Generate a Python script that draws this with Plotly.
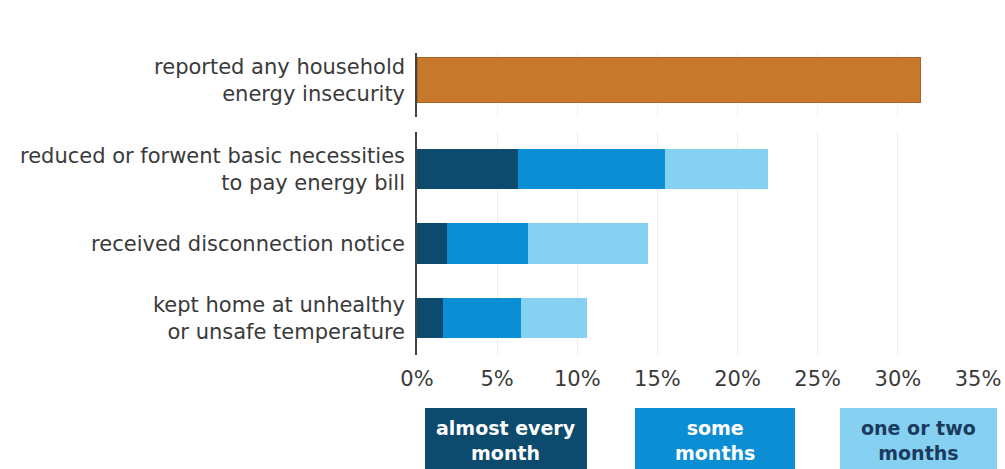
import plotly.graph_objects as go

# ---- data ----
top_category = ["reported any household<br>energy insecurity"]
top_value = [31.4]

categories = [
    "reduced or forwent basic necessities<br>to pay energy bill",
    "received disconnection notice",
    "kept home at unhealthy<br>or unsafe temperature",
]
almost_every_month = [6.3, 1.9, 1.6]
some_months = [9.2, 5.0, 4.9]
one_or_two_months = [6.4, 7.5, 4.1]

series_names = ["almost every<br>month", "some<br>months", "one or two<br>months"]
x_ticks = [0, 5, 10, 15, 20, 25, 30, 35]
x_tick_labels = ["0%", "5%", "10%", "15%", "20%", "25%", "30%", "35%"]

# ---- style ----
W, H = 1005, 469
L, R, T, B = 417, 27, 53, 114
PH = H - T - B
ORANGE = "#c8782b"
DARK = "#0c4a6e"
MED = "#0b8ed3"
LIGHT = "#86d1f2"
TXT = "#3a3a3a"
FONT = "DejaVu Sans"

def py(pix):  # pixel y -> paper y
    return (H - B - pix) / PH

def px(pix):
    return (pix - L) / (W - L - R)

fig = go.Figure()

fig.add_trace(go.Bar(
    y=top_category, x=top_value, orientation="h", width=0.69,
    marker=dict(color=ORANGE, line=dict(color="#a8621f", width=1)),
    xaxis="x2", yaxis="y2", showlegend=False, hoverinfo="skip"))

for vals, col, name in zip([almost_every_month, some_months, one_or_two_months],
                           [DARK, MED, LIGHT], series_names):
    fig.add_trace(go.Bar(
        y=categories, x=vals, orientation="h", width=0.54, name=name,
        marker=dict(color=col, line=dict(width=0)),
        xaxis="x", yaxis="y", showlegend=False, hoverinfo="skip"))

axis_font = dict(family=FONT, size=21, color=TXT)

fig.update_layout(
    width=W, height=H,
    margin=dict(l=L, r=R, t=T, b=B, pad=0, autoexpand=False),
    paper_bgcolor="white", plot_bgcolor="white",
    barmode="stack",
    font=axis_font,
    xaxis=dict(domain=[0, 1], range=[0, 35], tickvals=x_ticks, ticktext=x_tick_labels,
               showgrid=True, gridcolor="#eeeeee", gridwidth=1, zeroline=False,
               showline=False, ticks="", tickfont=axis_font, ticklabelstandoff=9,
               ticklabeloverflow="allow",
               anchor="y", fixedrange=True, automargin=False),
    xaxis2=dict(domain=[0, 1], range=[0, 35], tickvals=x_ticks, showticklabels=False,
                showgrid=True, gridcolor="#f3f3f3", gridwidth=1, zeroline=False,
                showline=False, ticks="", anchor="y2", matches="x", automargin=False),
    yaxis=dict(domain=[0, py(132)], categoryorder="array", categoryarray=categories,
               range=[2.5, -0.5], showline=True, linecolor="#444444", linewidth=1.5,
               showgrid=False, zeroline=False, ticks="", tickfont=axis_font,
               ticklabelstandoff=6, anchor="x", automargin=False),
    yaxis2=dict(domain=[py(117), 1], range=[-0.578, 0.422], showline=True,
                linecolor="#444444", linewidth=1.5, showgrid=False, zeroline=False,
                ticks="", tickfont=axis_font, ticklabelstandoff=6, anchor="x2",
                automargin=False),
)

# legend boxes
boxes = [(425, 587, DARK, "white"), (635, 795, MED, "white"), (840, 997, LIGHT, "#1b3b5e")]
for (x0, x1, col, tcol), name in zip(boxes, series_names):
    fig.add_shape(type="rect", xref="paper", yref="paper",
                  x0=px(x0), x1=px(x1), y0=py(470), y1=py(408),
                  fillcolor=col, line=dict(width=0), layer="above")
    fig.add_annotation(xref="paper", yref="paper", x=px((x0 + x1) / 2), y=py(441),
                       text="<b>" + name + "</b>", showarrow=False,
                       xanchor="center", yanchor="middle", align="center",
                       font=dict(family=FONT, size=19, color=tcol))

fig.write_html("out.html")
